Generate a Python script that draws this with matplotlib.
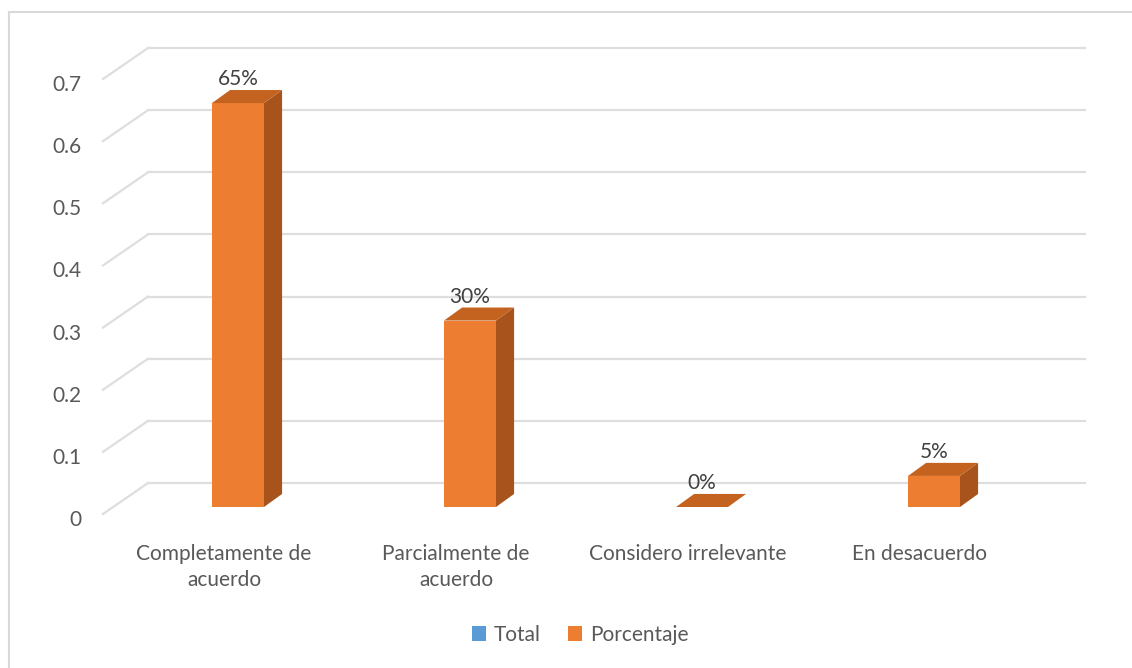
"""
Grafico de barras 3D (estilo Excel): porcentaje de respuestas por categoria.
Salida: out.png
"""

import matplotlib
matplotlib.use("Agg")
import matplotlib.pyplot as plt
import matplotlib.transforms as mtransforms
from matplotlib.patches import Patch, Polygon
from matplotlib.lines import Line2D

# --- datos ---
categorias = [
    "Completamente de\nacuerdo",
    "Parcialmente de\nacuerdo",
    "Considero irrelevante",
    "En desacuerdo",
]
porcentaje = [0.65, 0.30, 0.00, 0.05]
etiquetas_valor = ["65%", "30%", "0%", "5%"]
y_ticks = [0.0, 0.1, 0.2, 0.3, 0.4, 0.5, 0.6, 0.7]
y_tick_labels = ["0", "0.1", "0.2", "0.3", "0.4", "0.5", "0.6", "0.7"]
series = ["Total", "Porcentaje"]

COLOR_TOTAL = "#5B9BD5"
COLOR_FRENTE = "#ED7D31"
COLOR_LADO = "#A8531C"
COLOR_TAPA = "#C4621F"
COLOR_GRID = "#DEDEDE"
COLOR_TEXTO = "#595959"
FUENTE = "Lato"
TAM = 15

W, H = 1132, 668
fig = plt.figure(figsize=(W / 100, H / 100), dpi=100)
ax = fig.add_axes([108 / W, 150 / H, 928 / W, 435 / H])
ax.set_xlim(-0.5, 3.5)
ax.set_ylim(0, 0.7)
for s in ax.spines.values():
    s.set_visible(False)
ax.patch.set_visible(False)

# planos de profundidad (desplazamientos en pixeles)
fondo = mtransforms.offset_copy(ax.transData, fig, x=40, y=35, units="dots")
borde = mtransforms.offset_copy(ax.transData, fig, x=-5, y=4, units="dots")
plano_barras = mtransforms.offset_copy(ax.transData, fig, x=14, y=11, units="dots")

# rejilla: pared de fondo + diagonales del suelo/lateral
for v in y_ticks:
    ax.plot([-0.5, 3.54], [v, v], color=COLOR_GRID, lw=1.6,
            transform=fondo, clip_on=False, zorder=1)
    p0 = borde.transform((-0.5, v))
    p1 = fondo.transform((-0.5, v))
    fig.add_artist(Line2D([p0[0] / W, p1[0] / W], [p0[1] / H, p1[1] / H],
                          color=COLOR_GRID, lw=1.6, zorder=1))

# barras 3D
ancho = 0.224
dx, dy = 0.078, 0.021
for i, v in enumerate(porcentaje):
    xl, xr = i - ancho / 2, i + ancho / 2
    if v > 0:
        ax.bar(i, v, width=ancho, color=COLOR_FRENTE, transform=plano_barras,
               clip_on=False, zorder=3)
        lado = Polygon([(xr, 0), (xr + dx, dy), (xr + dx, v + dy), (xr, v)],
                       closed=True, facecolor=COLOR_LADO, edgecolor="none",
                       transform=plano_barras, clip_on=False, zorder=3)
        ax.add_patch(lado)
    tapa = Polygon([(xl, v), (xr, v), (xr + dx, v + dy), (xl + dx, v + dy)],
                   closed=True, facecolor=COLOR_TAPA, edgecolor="none",
                   transform=plano_barras, clip_on=False, zorder=3)
    ax.add_patch(tapa)
    ax.annotate(etiquetas_valor[i], (i, v + dy), xycoords=plano_barras,
                xytext=(0, 1), textcoords="offset pixels",
                ha="center", va="bottom", fontsize=TAM, color="#404040",
                family=FUENTE, zorder=4)

# ejes
ax.set_yticks(y_ticks)
ax.set_yticklabels(y_tick_labels)
ax.set_xticks(range(len(categorias)))
ax.set_xticklabels(categorias)
ax.tick_params(axis="y", length=0, pad=19, labelsize=TAM, labelcolor=COLOR_TEXTO)
ax.tick_params(axis="x", length=0, pad=19, labelsize=TAM, labelcolor=COLOR_TEXTO)
for lab in ax.get_xticklabels() + ax.get_yticklabels():
    lab.set_family(FUENTE)
for lab in ax.get_xticklabels():
    lab.set_linespacing(1.35)

# leyenda
handles = [Patch(facecolor=COLOR_TOTAL, label=series[0]),
           Patch(facecolor=COLOR_FRENTE, label=series[1])]
fig.legend(handles=handles, loc="center", bbox_to_anchor=(580 / W, 33 / H),
           ncol=2, frameon=False, handlelength=0.7, handleheight=0.7,
           handletextpad=0.35, columnspacing=1.3,
           prop={"family": FUENTE, "size": TAM}, labelcolor=COLOR_TEXTO)

# marco del grafico (solo lados visibles)
fig.add_artist(Line2D([9 / W, 9 / W], [0, (H - 12) / H], color="#D9D9D9", lw=1.5))
fig.add_artist(Line2D([9 / W, 1], [(H - 12) / H, (H - 12) / H], color="#D9D9D9", lw=1.5))

fig.savefig("out.png", dpi=100, facecolor="white")
plt.close(fig)
